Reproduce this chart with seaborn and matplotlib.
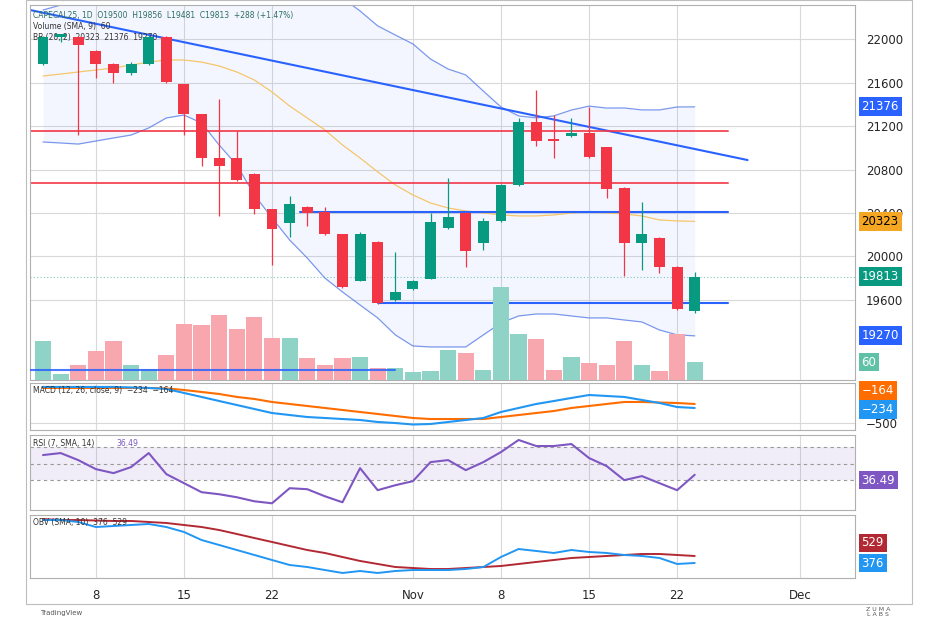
import numpy as np
import pandas as pd
import matplotlib
matplotlib.use("Agg")
import matplotlib.pyplot as plt
import matplotlib.transforms as mtransforms
import matplotlib.patches as mpatches
import seaborn as sns

sns.set_style("white")
plt.rcParams['font.family'] = ['DejaVu Sans']

# ---------------- data ----------------
opens  = [21770,22018,22018,21890,21770,21687,21770,22018,21586,21310,20906,20906,20759,20437,20308,20455,20409,20207,19775,20134,
          19600,19701,19793,20262,20400,20124,20327,20658,21237,21080,21108,21136,21007,20630,20124,20170,19903,19500]
highs  = [22030,22050,22030,21900,21775,21788,22040,22030,21590,21315,21448,21154,20765,20440,20557,20460,20455,20210,20226,20140,
          20042,19780,20400,20722,20405,20354,20665,21273,21531,21300,21273,21375,21010,20635,20501,20175,19910,19856]
lows   = [21760,21972,21117,21641,21595,21669,21760,21595,21117,20833,20373,20690,20391,19920,20180,20281,20200,19710,19770,19565,
          19590,19695,19790,20255,19903,20060,20320,20650,21017,20906,21100,20910,20538,19820,19875,19848,19510,19481]
closes = [22018,22046,21945,21770,21687,21770,22018,21605,21310,20906,20833,20703,20437,20253,20483,20400,20207,19720,20207,19573,
          19674,19775,20317,20363,20051,20327,20658,21237,21062,21062,21136,20915,20621,20124,20207,19903,19517,19813]
volume = [132,20,51,100,132,51,36,84,190,186,220,173,214,142,142,75,51,75,79,41,
          41,26,32,102,91,35,316,156,139,35,79,57,50,132,50,32,156,60]
bb_mid = [21660,21678,21697,21715,21733,21761,21788,21807,21807,21788,21752,21697,21623,21513,21384,21274,21164,21026,20906,20778,
          20658,20566,20492,20446,20419,20400,20382,20373,20373,20382,20400,20409,20400,20391,20373,20336,20327,20323]
bb_low = [21053,21044,21034,21062,21090,21117,21182,21274,21301,21228,21025,20841,20566,20354,20152,19986,19802,19674,19554,19435,
          19279,19177,19168,19168,19168,19279,19389,19453,19471,19471,19453,19435,19435,19416,19398,19324,19279,19270]
bb_up  = [22267,22312,22360,22368,22376,22405,22394,22340,22313,22348,22479,22553,22680,22672,22616,22562,22526,22378,22258,22121,
          22037,21955,21816,21724,21670,21521,21375,21293,21275,21293,21347,21383,21365,21366,21348,21348,21375,21376]
macd   = [134,134,134,134,134,125,116,99,29,-41,-112,-182,-252,-322,-357,-392,-409,-427,-444,-479,
          -497,-523,-514,-479,-444,-409,-304,-234,-164,-112,-59,-7,-24,-41,-94,-147,-217,-234]
signal = [116,116,116,116,116,116,116,107,81,46,11,-41,-76,-129,-164,-199,-234,-269,-304,-339,
          -374,-409,-427,-427,-427,-427,-392,-357,-322,-287,-234,-199,-164,-129,-129,-138,-147,-164]
rsi    = [60.3,62.7,54.2,43.3,38.5,45.8,62.7,37.3,26.4,15.5,13.0,9.4,4.5,2.1,20.3,19.1,10.6,3.3,44.5,17.9,
          23.9,28.8,51.8,54.2,42.1,51.8,63.9,78.5,71.2,71.2,73.6,56.7,47.0,30.0,34.9,26.4,17.9,36.49]
obv    = [1317,1317,1274,1164,1186,1208,1230,1164,1055,879,770,660,551,441,332,288,222,157,200,157,
          200,222,222,222,244,288,507,682,639,595,660,617,595,551,529,485,354,376]
obv_ma = [1339,1317,1317,1306,1296,1296,1274,1252,1208,1164,1098,1011,923,836,748,660,595,507,420,354,
          288,266,244,244,266,288,310,354,398,441,485,507,529,551,573,573,551,529]
tick_pos = [3, 8, 13, 21, 26, 31, 36, 43]
tick_labels = ["8", "15", "22", "Nov", "8", "15", "22", "Dec"]
price_ticks = [19600, 20000, 20400, 20800, 21200, 21600, 22000]

GREEN = "#089981"; RED = "#f23645"; BLUE = "#2962ff"
VGREEN = "#8fd3c6"; VRED = "#f8a7af"
idx = np.arange(len(closes))
df = pd.DataFrame(dict(i=idx, o=opens, h=highs, l=lows, c=closes, v=volume,
                       mid=bb_mid, lo=bb_low, up=bb_up, macd=macd, sig=signal,
                       rsi=rsi, obv=obv, obvma=obv_ma))
up = (df.c >= df.o).values

W, H = 940, 627
fig = plt.figure(figsize=(W/100, H/100), dpi=100)
def rect(x0, y0, x1, y1):
    return [x0/W, 1-y1/H, (x1-x0)/W, (y1-y0)/H]

XL = (-0.74, 46.1)
grid_c = "#d9d9d9"

def style(ax):
    ax.set_xlim(*XL)
    ax.yaxis.tick_right()
    ax.tick_params(axis='y', length=0, labelsize=8.5, pad=8)
    ax.tick_params(axis='x', length=0)
    ax.set_xticks(tick_pos)
    ax.set_xticklabels([])
    ax.grid(True, color=grid_c, lw=0.8)
    ax.set_axisbelow(True)
    for s in ax.spines.values():
        s.set_color("#b0b0b0"); s.set_linewidth(0.8)
    ax.set_xlabel(""); ax.set_ylabel("")

def tag(ax, yfrac, text, color, tc="white"):
    tr = mtransforms.blended_transform_factory(ax.transAxes, ax.transAxes)
    ax.text(1.008, yfrac, text, transform=tr, va="center", ha="left", fontsize=8.5, color=tc,
            bbox=dict(boxstyle="square,pad=0.25", fc=color, ec="none"), zorder=10)

# outer frame
fig.patches.append(mpatches.Rectangle((26/W, 1-604/H), (912-26)/W, 604/H, transform=fig.transFigure,
                                      fill=False, ec="#bdbdbd", lw=0.8))

# ---------- price panel ----------
ax = fig.add_axes(rect(30, 5, 855, 380))
ymin, ymax = 18864, 22313
ax.set_ylim(ymin, ymax)
ax.fill_between(df.i, df.lo, df.up, color=BLUE, alpha=0.05, lw=0)
sns.lineplot(data=df, x="i", y="up", ax=ax, color="#5b7fe8", lw=0.9, alpha=0.8)
sns.lineplot(data=df, x="i", y="lo", ax=ax, color="#5b7fe8", lw=0.9, alpha=0.8)
sns.lineplot(data=df, x="i", y="mid", ax=ax, color="#f5c66b", lw=0.9)
ax.set_yticks(price_ticks)
ax.set_yticklabels([str(t) for t in price_ticks])
ax.axhline(19813, color=GREEN, lw=0.8, ls=(0, (1, 2)), alpha=0.5)
ax.plot([-0.74, 40.0], [22267, 20887], color=BLUE, lw=1.5)
ax.plot([-0.74, 38.9], [21154, 21154], color=RED, lw=1.4, alpha=0.85)
ax.plot([-0.74, 38.9], [20676, 20676], color=RED, lw=1.4, alpha=0.85)
ax.plot([14.6, 38.9], [20410, 20410], color=BLUE, lw=1.5)
ax.plot([19.0, 38.9], [19573, 19573], color=BLUE, lw=1.5)
# volume overlay
axv = ax.twinx()
axv.set_ylim(0, 316 * 375 / 93)
axv.bar(df.i, df.v, width=0.92, color=np.where(up, VGREEN, VRED), lw=0)
axv.set_yticks([]); axv.set_xlim(*XL)
for s in axv.spines.values(): s.set_visible(False)
axv.plot([-0.74, 20.0], [35, 35], color=BLUE, lw=1.5, alpha=0.85)
# candles
axc = ax.twinx(); axc.set_ylim(ymin, ymax); axc.set_yticks([]); axc.set_xlim(*XL)
for s in axc.spines.values(): s.set_visible(False)
cols = np.where(up, GREEN, RED)
axc.vlines(df.i, df.l, df.h, color=cols, lw=0.9)
bot = np.minimum(df.o, df.c); hgt = np.maximum(np.abs(df.c - df.o), 12)
axc.bar(df.i, hgt, bottom=bot, width=0.62, color=cols, lw=0)
style(ax)
tag(axc, (21376-ymin)/(ymax-ymin), "21376", BLUE)
tag(axc, (20323-ymin)/(ymax-ymin), "20323", "#f5a623", tc="black")
tag(axc, (19813-ymin)/(ymax-ymin), "19813", GREEN)
tag(axc, (19270-ymin)/(ymax-ymin), "19270", BLUE)
tag(axc, 18/375, "60", "#5fc2a6")
ax.text(0.004, 0.985, "CAPECAL25, 1D  O19500  H19856  L19481  C19813  +288 (+1.47%)",
        transform=ax.transAxes, fontsize=5.5, va="top", color="#2a6e62")
ax.text(0.004, 0.955, "Volume (SMA, 9)  60", transform=ax.transAxes, fontsize=5.5, va="top", color="#333")
ax.text(0.004, 0.925, "BB (20, 2)  20323  21376  19270", transform=ax.transAxes, fontsize=5.5, va="top", color="#333")

# ---------- MACD ----------
am = fig.add_axes(rect(30, 383, 855, 430))
sns.lineplot(data=df, x="i", y="sig", ax=am, color="#ff6d00", lw=1.5)
sns.lineplot(data=df, x="i", y="macd", ax=am, color="#2196f3", lw=1.5)
am.set_ylim(-619, 203)
am.set_yticks([-500]); am.set_yticklabels(["−500"])
style(am)
tag(am, 0.85, "−164", "#ff6d00")
tag(am, 0.43, "−234", "#2196f3")
am.text(0.004, 0.93, "MACD (12, 26, close, 9)  −234  −164", transform=am.transAxes, fontsize=5.5, va="top", color="#333")

# ---------- RSI ----------
ar = fig.add_axes(rect(30, 435, 855, 510))
ar.axhspan(30, 70, color="#7e57c2", alpha=0.1, lw=0)
for lv in (30, 50, 70):
    ar.axhline(lv, color="#999", lw=0.8, ls=(0, (3, 3)))
sns.lineplot(data=df, x="i", y="rsi", ax=ar, color="#7e57c2", lw=1.5)
ar.set_ylim(-6, 84.5)
ar.set_yticks([])
style(ar)
tag(ar, 0.40, "36.49", "#7e57c2")
ar.text(0.004, 0.95, "RSI (7, SMA, 14)", transform=ar.transAxes, fontsize=5.5, va="top", color="#333")
ar.text(0.105, 0.95, "36.49", transform=ar.transAxes, fontsize=5.5, va="top", color="#7e57c2")

# ---------- OBV ----------
ao = fig.add_axes(rect(30, 515, 855, 578))
sns.lineplot(data=df, x="i", y="obvma", ax=ao, color="#b22833", lw=1.4)
sns.lineplot(data=df, x="i", y="obv", ax=ao, color="#2196f3", lw=1.4)
ao.set_ylim(47, 1427)
ao.set_yticks([])
style(ao)
tag(ao, 0.556, "529", "#b22833")
tag(ao, 0.238, "376", "#2196f3")
ao.text(0.004, 0.95, "OBV (SMA, 10)  376  529", transform=ao.transAxes, fontsize=5.5, va="top", color="#333")
ao.set_xticklabels(tick_labels, fontsize=8.5)
ao.tick_params(axis='x', pad=8)

fig.text(40/W, 1-615/H, "TradingView", fontsize=5, color="#555")
fig.text(878/W, 1-612/H, "Z U M A\nL A B S", fontsize=4.5, color="#555", ha="center", va="center")
fig.savefig("out.png", dpi=100, facecolor="white")
